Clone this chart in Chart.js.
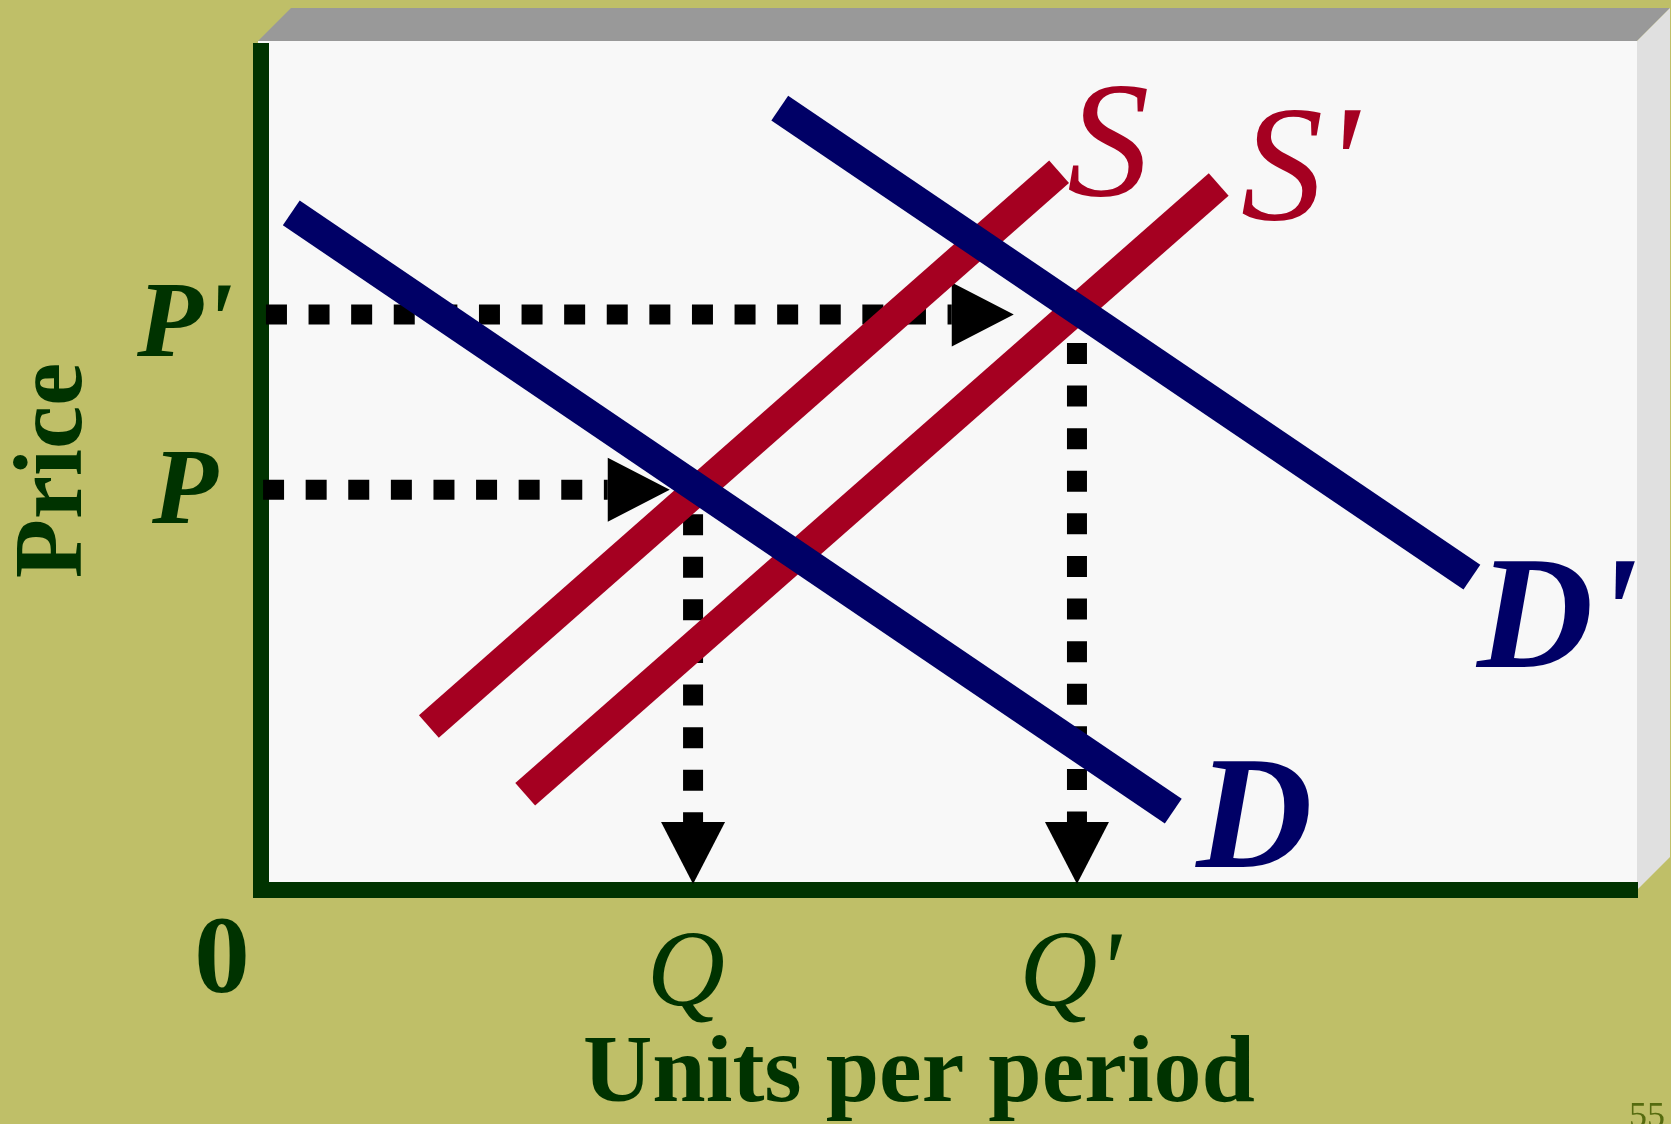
<!DOCTYPE html>
<html>
<head>
<meta charset="utf-8">
<title>Demand and supply shift</title>
<script src="https://cdn.jsdelivr.net/npm/chart.js@4.4.1/dist/chart.umd.min.js"></script>
<style>
  html, body { margin: 0; padding: 0; background: #bfbf68; }
  canvas { display: block; }
</style>
</head>
<body>
<canvas id="chart" width="1671" height="1124"></canvas>
<script>
// Both axes run 0..100 (quantity across, price up).

// curve end points
const demandQ = [2.2, 66.3];
const demandP = [80.7, 9.4];
const demand2Q = [37.7, 88.0];
const demand2P = [93.2, 37.3];
const supplyQ = [12.2, 58.0];
const supplyP = [19.5, 85.6];
const supply2Q = [19.2, 69.6];
const supply2P = [11.4, 84.1];

// tick values and their labels
const priceTicks = [47.7, 68.6];
const priceLabels = ["P", "P'"];
const qtyTicks = [31.4, 59.3];
const qtyLabels = ["Q", "Q'"];

// dotted guides: where they start and where the arrow head begins
const priceGuideFrom = [0.15, 0.36];
const priceGuideTo = [25.2, 50.2];
const qtyGuideFrom = [44.8, 65.2];
const qtyGuideTo = [8.1, 8.1];

const OLIVE = "#bfbf68";
const RED = "#a50021";
const BLUE = "#000066";
const GREEN = "#003300";
const SERIF = "'Liberation Serif', 'Times New Roman', serif";

// small nudges so the letters sit where the slide had them
const priceLabelDy = [33, 42];
const qtyLabelDx = -7;

function pts(xs, ys) {
  return xs.map((x, i) => ({ x, y: ys[i] }));
}

function curve(label, xs, ys, color, order, tag) {
  return {
    label, data: pts(xs, ys), showLine: true, order, tag,
    borderColor: color, borderWidth: 30, borderCapStyle: "butt",
    pointRadius: 0, pointHoverRadius: 0,
  };
}

function guide(label, xs, ys) {
  return {
    label, data: pts(xs, ys), showLine: true, order: 2, arrowHead: true,
    borderColor: "#000", borderWidth: 20, borderDash: [21, 21.6], borderCapStyle: "butt",
    pointRadius: 0, pointHoverRadius: 0,
  };
}

// slide background, 3D box and white plot panel
const framePlugin = {
  id: "frame",
  beforeDraw(chart) {
    const { ctx, width, height, chartArea: a } = chart;
    const L = a.left - 3, T = a.top - 10, R = a.right, B = a.bottom, d = 33;
    ctx.save();
    ctx.fillStyle = OLIVE;
    ctx.fillRect(0, 0, width, height);
    ctx.fillStyle = "#999999";
    ctx.beginPath();
    ctx.moveTo(L, T); ctx.lineTo(L + d, T - d); ctx.lineTo(R + d, T - d); ctx.lineTo(R, T);
    ctx.closePath(); ctx.fill();
    ctx.fillStyle = "#e0e0e0";
    ctx.beginPath();
    ctx.moveTo(R, T); ctx.lineTo(R + d, T - d); ctx.lineTo(R + d, B - d); ctx.lineTo(R, B);
    ctx.closePath(); ctx.fill();
    ctx.fillStyle = "#f8f8f8";
    ctx.fillRect(L, T, R - L, B - T);
    ctx.restore();
  },
};

// arrow head at the end of each dotted guide
const arrowPlugin = {
  id: "arrows",
  afterDatasetDraw(chart, args) {
    const ds = chart.data.datasets[args.index];
    if (!ds.arrowHead) return;
    const p = args.meta.data;
    const a = p[p.length - 2], b = p[p.length - 1];
    const len = Math.hypot(b.x - a.x, b.y - a.y);
    const ux = (b.x - a.x) / len, uy = (b.y - a.y) / len;
    const L = 62, H = 32;
    const ctx = chart.ctx;
    ctx.save();
    ctx.fillStyle = "#000";
    ctx.beginPath();
    ctx.moveTo(b.x - uy * H, b.y + ux * H);
    ctx.lineTo(b.x + ux * L, b.y + uy * L);
    ctx.lineTo(b.x + uy * H, b.y - ux * H);
    ctx.closePath();
    ctx.fill();
    ctx.restore();
  },
};

// curve names, tick letters, axis titles, page number
const labelPlugin = {
  id: "labels",
  afterDraw(chart) {
    const { ctx, chartArea: a, scales: { x, y } } = chart;
    ctx.save();
    ctx.textBaseline = "alphabetic";

    chart.data.datasets.forEach((ds, i) => {
      if (!ds.tag) return;
      const end = chart.getDatasetMeta(i).data.at(-1);
      ctx.font = ds.tag.font;
      ctx.fillStyle = ds.borderColor;
      ctx.textAlign = "left";
      ctx.fillText(ds.tag.text, end.x + ds.tag.dx, end.y + ds.tag.dy);
    });

    ctx.fillStyle = GREEN;
    ctx.textAlign = "center";
    ctx.font = "italic bold 108px " + SERIF;
    priceTicks.forEach((v, i) => ctx.fillText(priceLabels[i], a.left - 76, y.getPixelForValue(v) + priceLabelDy[i]));
    ctx.font = "italic 108px " + SERIF;
    qtyTicks.forEach((v, i) => ctx.fillText(qtyLabels[i], x.getPixelForValue(v) + qtyLabelDx, a.bottom + 115));

    ctx.font = "bold 111px " + SERIF;
    ctx.fillText("0", a.left - 39, a.bottom + 102);

    ctx.font = "bold 96px " + SERIF;
    ctx.fillText("Units per period", (a.left + a.right) / 2 - 30, a.bottom + 211);

    ctx.save();
    ctx.translate(a.left - 180, (a.top + a.bottom) / 2);
    ctx.rotate(-Math.PI / 2);
    ctx.font = "bold 97px " + SERIF;
    ctx.fillText("Price", 0, 0);
    ctx.restore();

    ctx.textAlign = "left";
    ctx.font = "36px " + SERIF;
    ctx.fillStyle = "#556b0f";
    ctx.fillText("55", 1629, 1127);
    ctx.restore();
  },
};

const axisOpts = {
  type: "linear", min: 0, max: 100,
  ticks: { display: false },
  grid: { display: false, drawTicks: false },
  border: { display: true, color: GREEN, width: 16 },
};

new Chart(document.getElementById("chart"), {
  type: "scatter",
  data: {
    datasets: [
      curve("D'", demand2Q, demand2P, BLUE, 0, { text: "D'", dx: 5, dy: 90, font: "italic bold 161px " + SERIF }),
      curve("D", demandQ, demandP, BLUE, 0, { text: "D", dx: 23, dy: 56, font: "italic bold 161px " + SERIF }),
      curve("S'", supply2Q, supply2P, RED, 1, { text: "S'", dx: 22, dy: 35, font: "italic 165px " + SERIF }),
      curve("S", supplyQ, supplyP, RED, 1, { text: "S", dx: 8, dy: 23, font: "italic 165px " + SERIF }),
      guide("P", [priceGuideFrom[0], priceGuideTo[0]], [priceTicks[0], priceTicks[0]]),
      guide("P'", [priceGuideFrom[1], priceGuideTo[1]], [priceTicks[1], priceTicks[1]]),
      guide("Q", [qtyTicks[0], qtyTicks[0]], [qtyGuideFrom[0], qtyGuideTo[0]]),
      guide("Q'", [qtyTicks[1], qtyTicks[1]], [qtyGuideFrom[1], qtyGuideTo[1]]),
    ],
  },
  options: {
    responsive: false,
    animation: false,
    devicePixelRatio: 1,
    layout: { padding: { left: 261, right: 34, top: 51, bottom: 234 } },
    plugins: { legend: { display: false }, tooltip: { enabled: false } },
    scales: {
      x: { ...axisOpts, position: "bottom", afterFit: (s) => { s.height = 0; } },
      y: { ...axisOpts, position: "left", afterFit: (s) => { s.width = 0; } },
    },
  },
  plugins: [framePlugin, arrowPlugin, labelPlugin],
});
</script>
</body>
</html>
